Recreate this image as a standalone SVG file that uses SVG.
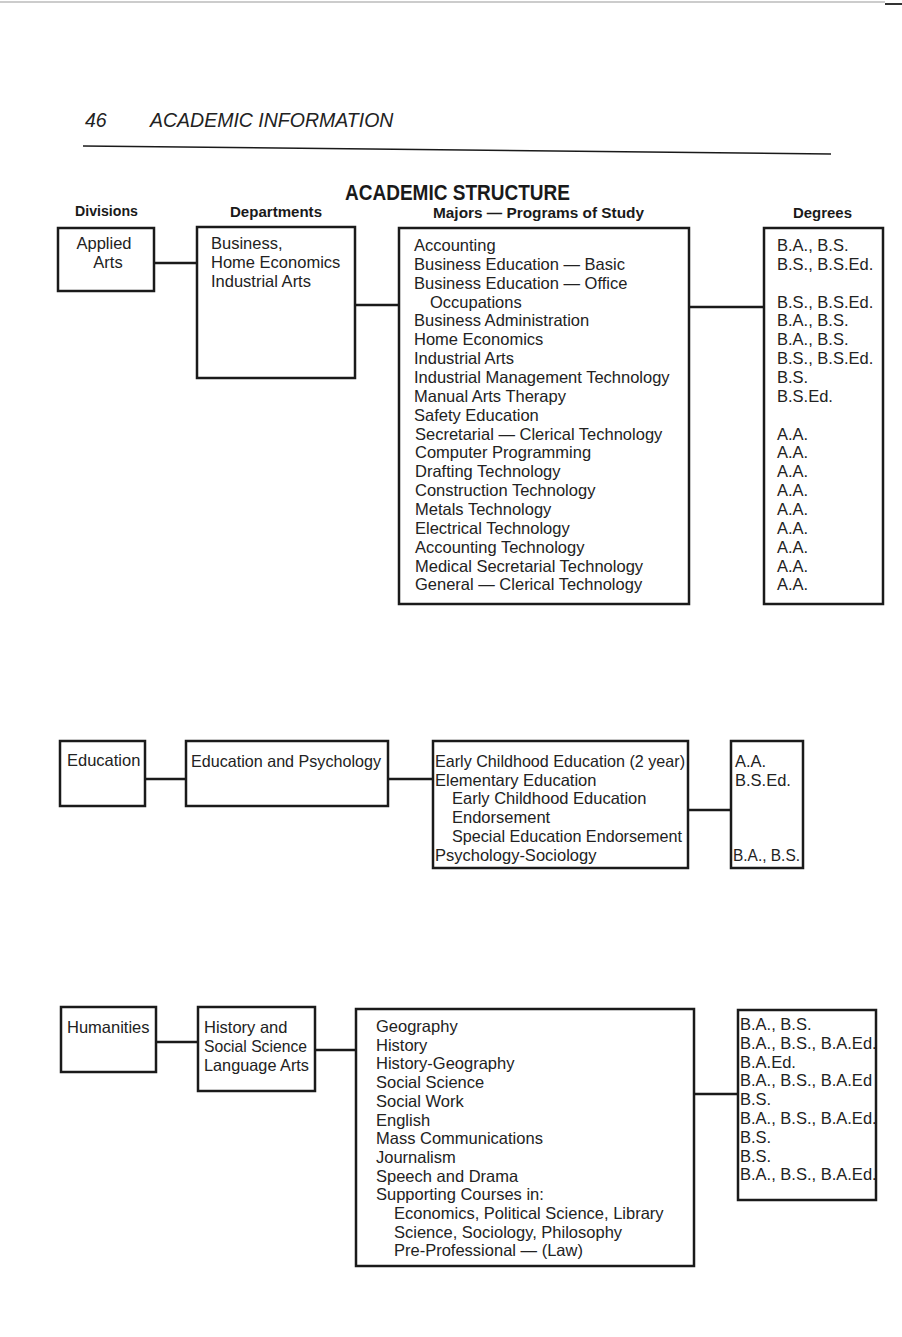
<svg xmlns="http://www.w3.org/2000/svg" width="902" height="1337" viewBox="0 0 902 1337">
<style>
.box{fill:none;stroke:#1a1a1a;stroke-width:2.5}
.con{stroke:#1a1a1a;stroke-width:2.5;fill:none}
.t{font-family:"Liberation Sans",Arial,sans-serif;font-size:16.5px;fill:#222}
.h{font-family:"Liberation Sans",Arial,sans-serif;font-weight:bold;fill:#1a1a1a}
.it{font-family:"Liberation Sans",Arial,sans-serif;font-style:italic;font-size:19.5px;fill:#222}
</style>
<rect width="902" height="1337" fill="#ffffff"/>
<g id="page">
<line x1="0" y1="2" x2="885" y2="2" stroke="#999" stroke-width="1"/>
<line x1="885" y1="4" x2="902" y2="4" stroke="#333" stroke-width="2"/>
<text class="it" x="85" y="127">46</text>
<text class="it" x="150" y="127">ACADEMIC INFORMATION</text>
<line x1="83" y1="146" x2="831" y2="154" stroke="#1a1a1a" stroke-width="1.5"/>
<text class="h" x="345" y="200" font-size="22" textLength="225" lengthAdjust="spacingAndGlyphs">ACADEMIC STRUCTURE</text>
<text class="h" x="75" y="216" font-size="15.5" textLength="63" lengthAdjust="spacingAndGlyphs">Divisions</text>
<text class="h" x="230" y="217" font-size="15.5" textLength="92" lengthAdjust="spacingAndGlyphs">Departments</text>
<text class="h" x="433" y="218" font-size="15.5" textLength="211" lengthAdjust="spacingAndGlyphs">Majors — Programs of Study</text>
<text class="h" x="793" y="218" font-size="15.5" textLength="59" lengthAdjust="spacingAndGlyphs">Degrees</text>
</g>
<g id="connectors">
<line class="con" x1="154" y1="263" x2="197" y2="263"/>
<line class="con" x1="355" y1="305" x2="399" y2="305"/>
<line class="con" x1="689" y1="307" x2="764" y2="307"/>
<line class="con" x1="145" y1="779" x2="186" y2="779"/>
<line class="con" x1="388" y1="779" x2="433" y2="779"/>
<line class="con" x1="688" y1="810" x2="731" y2="810"/>
<line class="con" x1="156" y1="1042" x2="198" y2="1042"/>
<line class="con" x1="315" y1="1050" x2="356" y2="1050"/>
<line class="con" x1="694" y1="1094" x2="738" y2="1094"/>
</g>
<g id="div-applied-arts">
<rect class="box" x="58" y="228" width="96" height="63"/>
<text class="t" x="104" y="249" text-anchor="middle">Applied</text>
<text class="t" x="108" y="268" text-anchor="middle">Arts</text>
</g>
<g id="dept-applied-arts">
<rect class="box" x="197" y="227" width="158" height="151"/>
<text class="t" x="211" y="249">Business,</text>
<text class="t" x="211" y="268">Home Economics</text>
<text class="t" x="211" y="287">Industrial Arts</text>
</g>
<g id="majors-applied-arts">
<rect class="box" x="399" y="228" width="290" height="376"/>
<text class="t" x="414" y="251">Accounting</text>
<text class="t" x="414" y="269.9">Business Education — Basic</text>
<text class="t" x="414" y="288.7">Business Education — Office</text>
<text class="t" x="430" y="307.6">Occupations</text>
<text class="t" x="414" y="326.4">Business Administration</text>
<text class="t" x="414" y="345.3">Home Economics</text>
<text class="t" x="414" y="364.1">Industrial Arts</text>
<text class="t" x="414" y="383">Industrial Management Technology</text>
<text class="t" x="414" y="401.8">Manual Arts Therapy</text>
<text class="t" x="414" y="420.7">Safety Education</text>
<text class="t" x="415" y="439.5">Secretarial — Clerical Technology</text>
<text class="t" x="415" y="458.4">Computer Programming</text>
<text class="t" x="415" y="477.2">Drafting Technology</text>
<text class="t" x="415" y="496.1">Construction Technology</text>
<text class="t" x="415" y="514.9">Metals Technology</text>
<text class="t" x="415" y="533.8">Electrical Technology</text>
<text class="t" x="415" y="552.6">Accounting Technology</text>
<text class="t" x="415" y="571.5">Medical Secretarial Technology</text>
<text class="t" x="415" y="590.3">General — Clerical Technology</text>
</g>
<g id="degrees-applied-arts">
<rect class="box" x="764" y="228" width="119" height="376"/>
<text class="t" x="777" y="251">B.A., B.S.</text>
<text class="t" x="777" y="269.9">B.S., B.S.Ed.</text>
<text class="t" x="777" y="307.6">B.S., B.S.Ed.</text>
<text class="t" x="777" y="326.4">B.A., B.S.</text>
<text class="t" x="777" y="345.3">B.A., B.S.</text>
<text class="t" x="777" y="364.1">B.S., B.S.Ed.</text>
<text class="t" x="777" y="383">B.S.</text>
<text class="t" x="777" y="401.8">B.S.Ed.</text>
<text class="t" x="777" y="439.5">A.A.</text>
<text class="t" x="777" y="458.4">A.A.</text>
<text class="t" x="777" y="477.2">A.A.</text>
<text class="t" x="777" y="496.1">A.A.</text>
<text class="t" x="777" y="514.9">A.A.</text>
<text class="t" x="777" y="533.8">A.A.</text>
<text class="t" x="777" y="552.6">A.A.</text>
<text class="t" x="777" y="571.5">A.A.</text>
<text class="t" x="777" y="590.3">A.A.</text>
</g>
<g id="div-education">
<rect class="box" x="60" y="741" width="85" height="65"/>
<text class="t" x="67" y="766">Education</text>
</g>
<g id="dept-education">
<rect class="box" x="186" y="741" width="202" height="65"/>
<text class="t" x="191" y="767" textLength="190" lengthAdjust="spacingAndGlyphs">Education and Psychology</text>
</g>
<g id="majors-education">
<rect class="box" x="433" y="741" width="255" height="127"/>
<text class="t" x="435" y="767" textLength="250" lengthAdjust="spacingAndGlyphs">Early Childhood Education (2 year)</text>
<text class="t" x="435" y="785.7">Elementary Education</text>
<text class="t" x="452" y="804.4">Early Childhood Education</text>
<text class="t" x="452" y="823.1">Endorsement</text>
<text class="t" x="452" y="841.8" textLength="230" lengthAdjust="spacingAndGlyphs">Special Education Endorsement</text>
<text class="t" x="435" y="860.5">Psychology-Sociology</text>
</g>
<g id="degrees-education">
<rect class="box" x="731" y="741" width="72" height="127"/>
<text class="t" x="735" y="767">A.A.</text>
<text class="t" x="735" y="785.7">B.S.Ed.</text>
<text class="t" x="733" y="860.5" textLength="67" lengthAdjust="spacingAndGlyphs">B.A., B.S.</text>
</g>
<g id="div-humanities">
<rect class="box" x="61" y="1007" width="95" height="65"/>
<text class="t" x="67" y="1033">Humanities</text>
</g>
<g id="dept-humanities">
<rect class="box" x="198" y="1007" width="117" height="84"/>
<text class="t" x="204" y="1033">History and</text>
<text class="t" x="204" y="1052" textLength="103" lengthAdjust="spacingAndGlyphs">Social Science</text>
<text class="t" x="204" y="1071" textLength="105" lengthAdjust="spacingAndGlyphs">Language Arts</text>
</g>
<g id="majors-humanities">
<rect class="box" x="356" y="1009" width="338" height="257"/>
<text class="t" x="376" y="1032">Geography</text>
<text class="t" x="376" y="1050.7">History</text>
<text class="t" x="376" y="1069.4">History-Geography</text>
<text class="t" x="376" y="1088.1">Social Science</text>
<text class="t" x="376" y="1106.8">Social Work</text>
<text class="t" x="376" y="1125.5">English</text>
<text class="t" x="376" y="1144.2">Mass Communications</text>
<text class="t" x="376" y="1162.9">Journalism</text>
<text class="t" x="376" y="1181.6">Speech and Drama</text>
<text class="t" x="376" y="1200.3">Supporting Courses in:</text>
<text class="t" x="394" y="1219">Economics, Political Science, Library</text>
<text class="t" x="394" y="1237.7">Science, Sociology, Philosophy</text>
<text class="t" x="394" y="1256.4">Pre-Professional — (Law)</text>
</g>
<g id="degrees-humanities">
<rect class="box" x="738" y="1010" width="138" height="190"/>
<text class="t" x="740" y="1030">B.A., B.S.</text>
<text class="t" x="740" y="1048.8">B.A., B.S., B.A.Ed.</text>
<text class="t" x="740" y="1067.6">B.A.Ed.</text>
<text class="t" x="740" y="1086.4">B.A., B.S., B.A.Ed</text>
<text class="t" x="740" y="1105.2">B.S.</text>
<text class="t" x="740" y="1124">B.A., B.S., B.A.Ed.</text>
<text class="t" x="740" y="1142.8">B.S.</text>
<text class="t" x="740" y="1161.6">B.S.</text>
<text class="t" x="740" y="1180.4">B.A., B.S., B.A.Ed.</text>
</g>
</svg>
